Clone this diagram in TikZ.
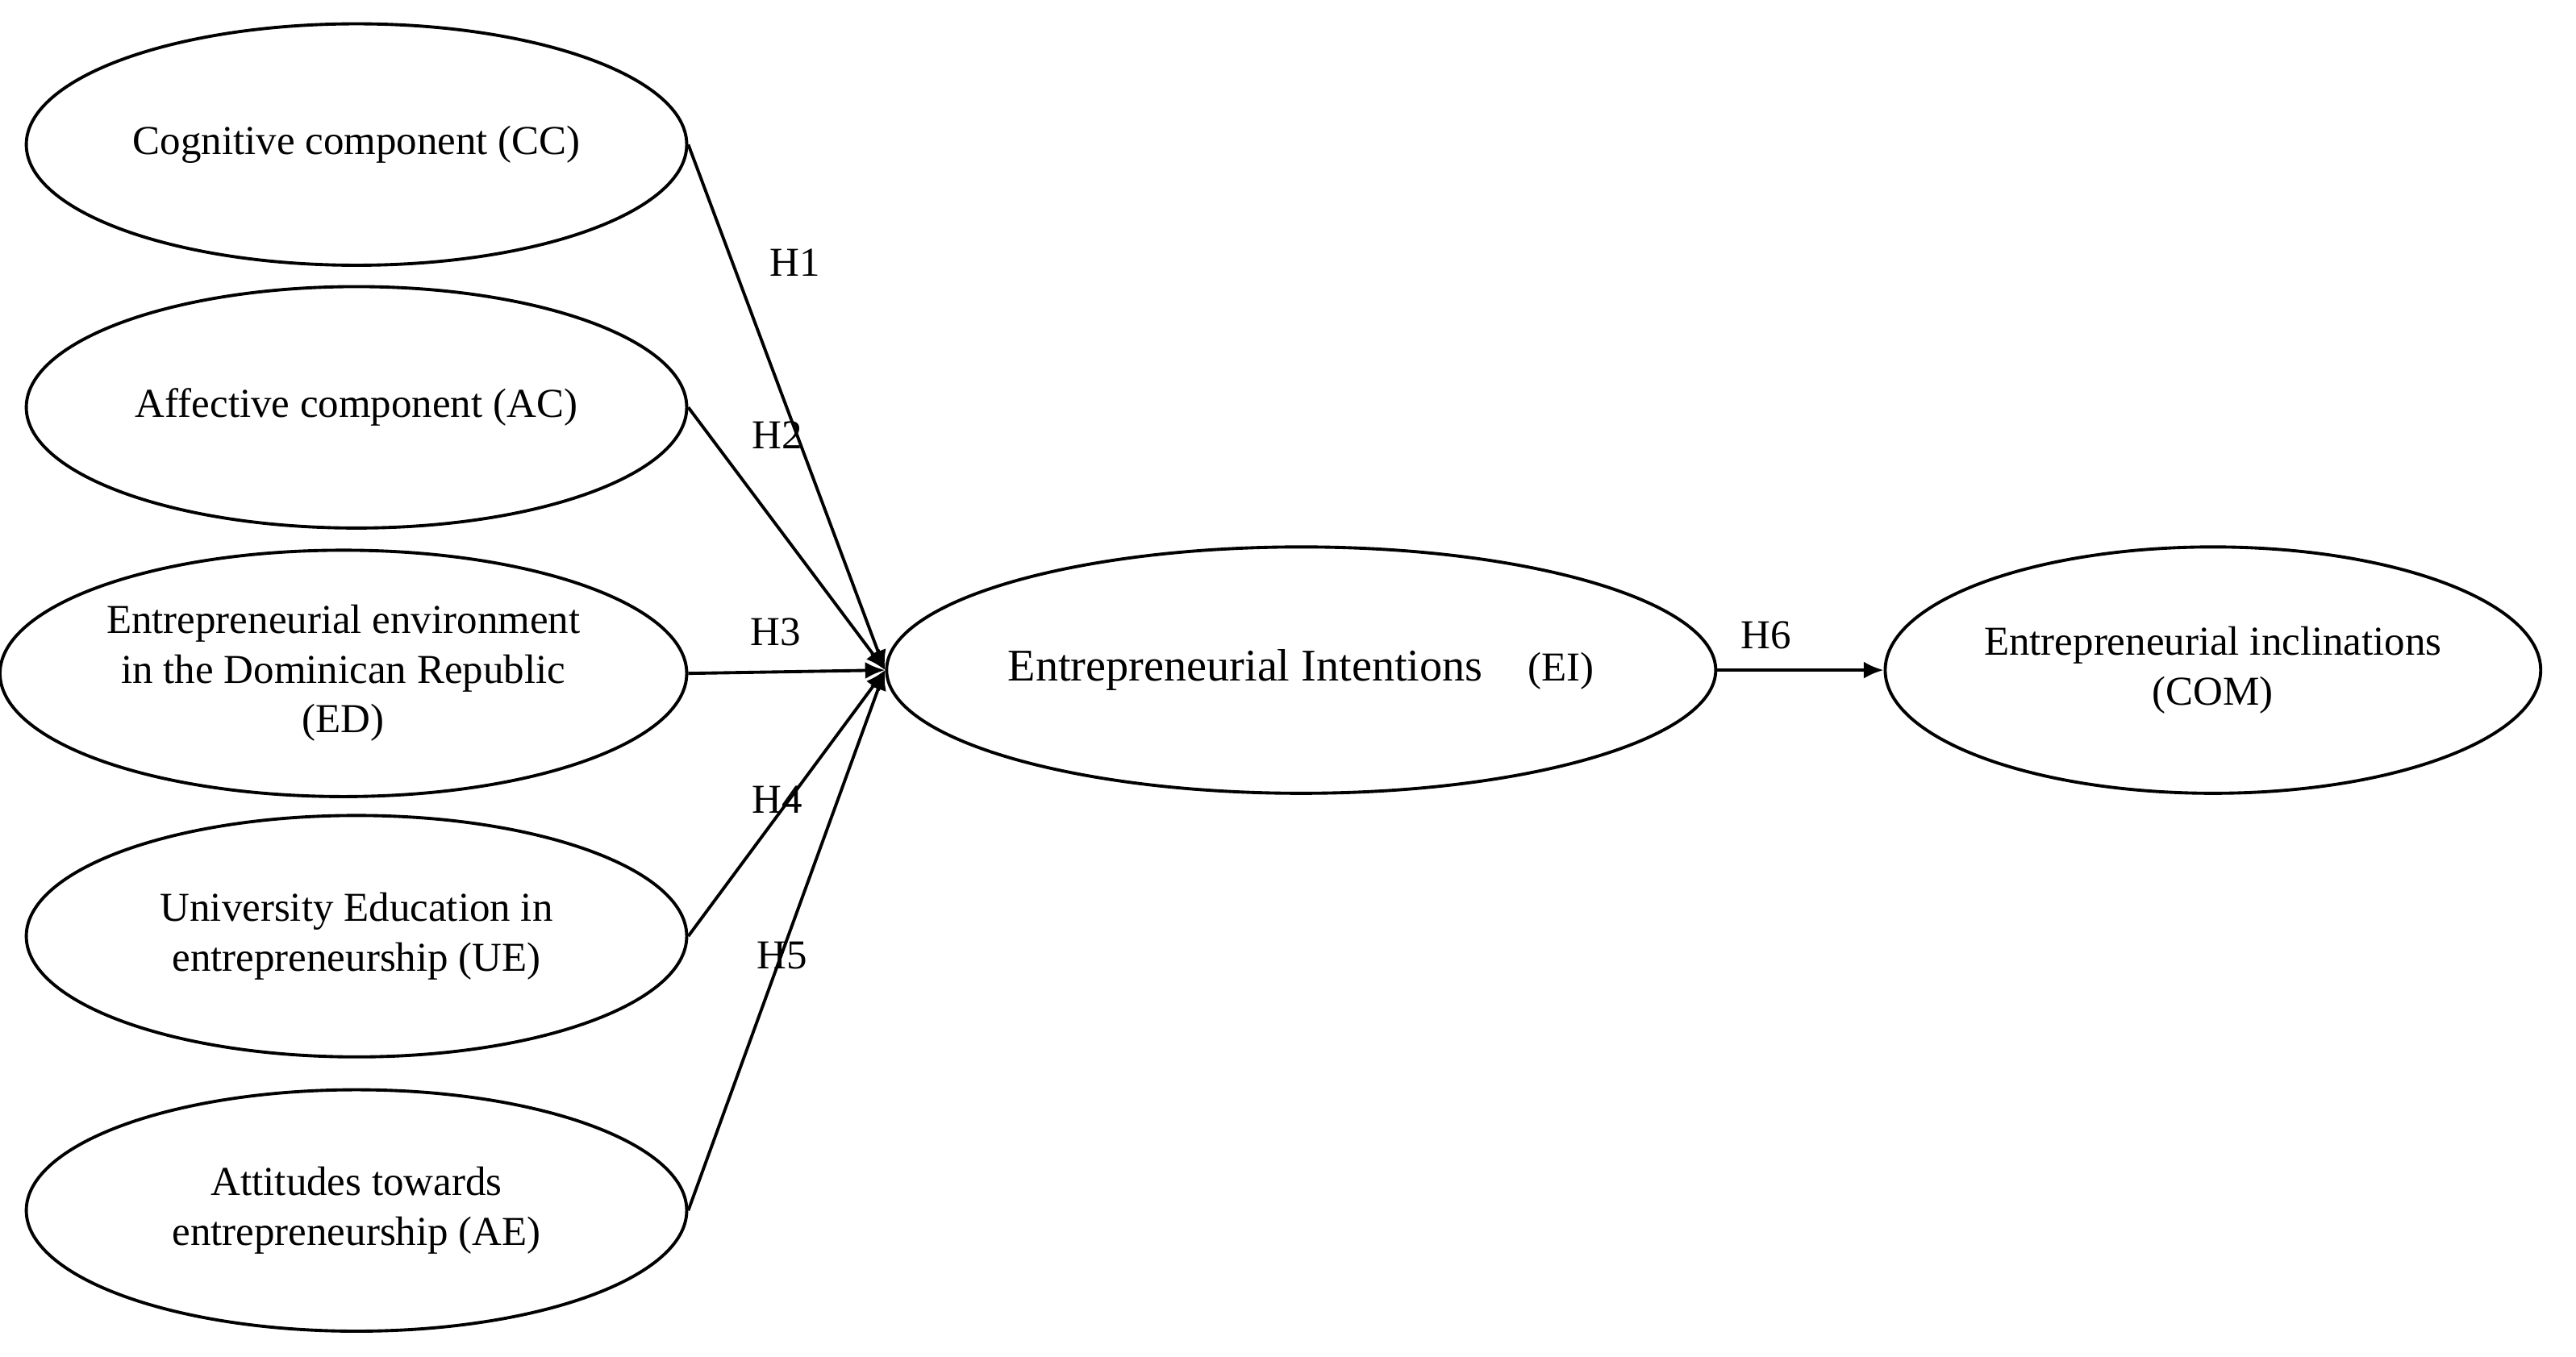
\documentclass[tikz,border=0pt]{standalone}
\usepackage{fontspec}
\setmainfont{Liberation Serif}
\usetikzlibrary{shapes.geometric,arrows.meta}
\begin{document}
\begin{tikzpicture}[x=0.02037cm,y=-0.02037cm,
  ell/.style={draw,ellipse,line width=1.1pt,inner sep=0pt,minimum width={402*0.02037cm},minimum height={147*0.02037cm},align=center,font=\fontsize{14.5}{17.5}\selectfont},
  arr/.style={line width=1.1pt,-{Latex[length=7pt,width=6pt]}},
  lab/.style={font=\fontsize{14.5}{17}\selectfont}]
\useasboundingbox (0,0) rectangle (1568,826);
\node[ell] (cc) at (217,88) {Cognitive component (CC)};
\node[ell] (ac) at (217,248) {Affective component (AC)};
\node[ell,minimum width={418*0.02037cm},minimum height={150*0.02037cm}] (ed) at (209,410) {Entrepreneurial environment\\in the Dominican Republic\\(ED)};
\node[ell] (ue) at (217,570) {University Education in\\entrepreneurship (UE)};
\node[ell] (ae) at (217,737) {Attitudes towards\\entrepreneurship (AE)};
\node[ell,minimum width={407*0.02037cm},minimum height={150*0.02037cm},font=\fontsize{16}{19}\selectfont] (ei) at (792,408) {Entrepreneurial Intentions\quad{\fontsize{14.5}{17}\selectfont(EI)}};
\node[ell,minimum width={399*0.02037cm},minimum height={150*0.02037cm}] (com) at (1347,408) {Entrepreneurial inclinations\\(COM)};
\foreach \n in {cc,ac,ed,ue,ae} \draw[arr] (\n.east) -- (ei.west);
\draw[arr] (ei.east) -- (com.west);
\node[lab] (h1) at (484,160) {H1};
\node[lab] (h2) at (473,265) {H2};
\node[lab] (h3) at (472,385) {H3};
\node[lab] (h4) at (473,487) {H4};
\node[lab] (h5) at (476,582) {H5};
\node[lab] (h6) at (1075,387) {H6};
\end{tikzpicture}
\end{document}
